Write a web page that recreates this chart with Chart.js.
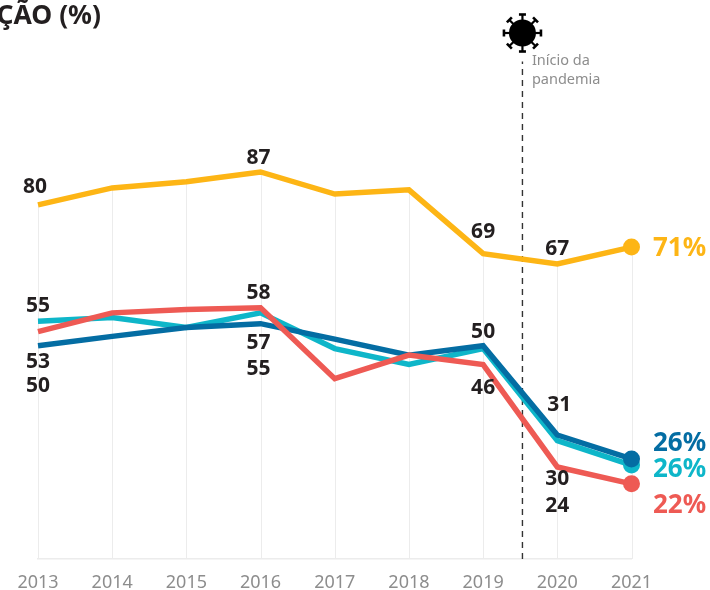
<!DOCTYPE html>
<html lang="pt">
<head>
<meta charset="utf-8">
<style>html,body{margin:0;padding:0;background:#fff}canvas{display:block}</style>
<script src="https://cdn.jsdelivr.net/npm/chart.js@4"></script>
</head>
<body>
<canvas id="c" width="710" height="590"></canvas>
<script>
const years = [2013,2014,2015,2016,2017,2018,2019,2020,2021];
const yellowValues = [80,83.6,84.9,87,82.3,83.2,69.6,67.4,71];
const cyanValues = [55.2,56,53.9,57,49.4,46,49.4,29.8,24.6];
const blueValues = [50,52,53.9,54.7,51.4,48,50,31,25.9];
const redValues = [53,57,57.7,58.1,43,48,46,24.2,20.6];
const pandemicYear = [2019.53];
const titleText = "ÇÃO (%)";
const pandemicText = ["Início da","pandemia"];
const endLabels = ["71%","26%","26%","22%"];
const yellowLabels = {2013:"80",2016:"87",2019:"69",2020:"67"};
const cyanLabels = {2013:"55",2016:"57",2020:"30"};
const blueLabels = {2013:"50",2016:"55",2019:"50",2020:"31"};
const redLabels = {2013:"53",2016:"58",2019:"46",2020:"24"};

const YELLOW="#fdb515",CYAN="#0eb6c9",BLUE="#046da3",RED="#ee5a54",INK="#231f20",GREY="#8d8d8d",GRID="#ececec";
const FONT='"Noto Sans", sans-serif';

// pixel nudges for annotation text, relative to the data point each one belongs to
const labelNudges = {
  yellow:{2013:[-3,-18],2016:[-2,-14],2019:[0,-22],2020:[0,-15]},
  cyan:{2013:[0,-15],2016:[-2,30],2020:[0,38]},
  blue:{2013:[0,40],2016:[-2,45],2019:[0,-14],2020:[2,-30]},
  red:{2013:[0,30],2016:[-2,-15],2019:[0,23],2020:[0,39]}
};
const endNudges = [1,-15,5,22];

const series = (label,data,color)=>({
  label,data:years.map((x,i)=>({x,y:data[i]})),borderColor:color,backgroundColor:color,
  borderWidth:5.5,clip:false,tension:0,borderCapStyle:'butt',borderJoinStyle:'miter',
  pointRadius:c=>c.dataIndex===years.length-1?8.5:0,pointBorderWidth:0,pointHoverRadius:0
});

const annotations = {
  id:'annotations',
  beforeDatasetsDraw(chart){
    const {ctx,scales:{x,y}}=chart;
    ctx.save();
    ctx.strokeStyle=GRID;ctx.lineWidth=1;
    years.forEach((yr,i)=>{
      const px=Math.round(x.getPixelForValue(yr))+.5;
      ctx.beginPath();ctx.moveTo(px,y.bottom);ctx.lineTo(px,y.getPixelForValue(yellowValues[i]));ctx.stroke();
    });
    ctx.restore();
  },
  afterDatasetsDraw(chart){
    const {ctx,scales:{x,y}}=chart;
    ctx.save();
    ctx.textBaseline='middle';ctx.textAlign='center';
    ctx.font='700 21px '+FONT;ctx.fillStyle=INK;
    const groups=[['yellow',yellowLabels,yellowValues],['cyan',cyanLabels,cyanValues],['blue',blueLabels,blueValues],['red',redLabels,redValues]];
    groups.forEach(([k,labels,vals])=>{
      Object.keys(labels).forEach(yr=>{
        const i=years.indexOf(+yr),n=labelNudges[k][yr];
        ctx.fillText(labels[yr],x.getPixelForValue(+yr)+n[0],y.getPixelForValue(vals[i])+n[1]);
      });
    });
    // end labels
    ctx.textAlign='left';ctx.font='700 26px '+FONT;
    const last=years.length-1;
    const endX=x.getPixelForValue(years[last])+21.5;
    [[YELLOW,yellowValues],[BLUE,blueValues],[CYAN,cyanValues],[RED,redValues]].forEach(([col,vals],i)=>{
      ctx.fillStyle=col;
      ctx.fillText(endLabels[i],endX,y.getPixelForValue(vals[last])+endNudges[i]);
    });
    // pandemic note
    const px=x.getPixelForValue(pandemicYear[0]);
    ctx.fillStyle=GREY;ctx.font='400 14.5px '+FONT;ctx.textBaseline='middle';
    pandemicText.forEach((t,i)=>ctx.fillText(t,px+9.5,61+i*19));
    // virus icon
    const cy=33;
    ctx.fillStyle='#000';ctx.strokeStyle='#000';
    ctx.beginPath();ctx.arc(px,cy,13.5,0,Math.PI*2);ctx.fill();
    for(let a=0;a<8;a++){
      const t=a*Math.PI/4;
      ctx.save();ctx.translate(px,cy);ctx.rotate(t);
      ctx.lineWidth=2.2;ctx.beginPath();ctx.moveTo(12,0);ctx.lineTo(18.5,0);ctx.stroke();
      ctx.lineWidth=2.6;ctx.beginPath();ctx.moveTo(18.5,-3.5);ctx.lineTo(18.5,3.5);ctx.stroke();
      ctx.restore();
    }
    // title
    ctx.fillStyle=INK;ctx.font='700 26.5px '+FONT;ctx.textAlign='right';ctx.textBaseline='alphabetic';
    ctx.fillText(titleText,101,24);
    ctx.restore();
  }
};

new Chart(document.getElementById('c'),{
  type:'line',
  data:{datasets:[
    series('Vermelho',redValues,RED),
    series('Azul',blueValues,BLUE),
    series('Ciano',cyanValues,CYAN),
    series('Amarelo',yellowValues,YELLOW),
    {label:'Início da pandemia',data:[{x:pandemicYear[0],y:4.6},{x:pandemicYear[0],y:110.5}],borderColor:'#333',borderWidth:1.4,borderDash:[6,5],pointRadius:0,clip:false}
  ]},
  options:{
    responsive:false,animation:false,
    layout:{padding:{left:38,right:78.5,top:0,bottom:0}},
    plugins:{legend:{display:false},tooltip:{enabled:false},title:{display:false}},
    scales:{
      x:{type:'linear',min:years[0],max:years[years.length-1],
        afterFit(s){s.height=31},
        afterBuildTicks(s){s.ticks=years.map(v=>({value:v}))},
        grid:{display:false,drawTicks:false},
        border:{display:true,color:GRID,width:1.5},
        ticks:{autoSkip:false,maxRotation:0,padding:13,color:GREY,font:{family:FONT,size:18},callback:v=>String(v)}},
      y:{display:false,min:4.6,max:121.8}
    }
  },
  plugins:[annotations]
});
</script>
</body>
</html>
